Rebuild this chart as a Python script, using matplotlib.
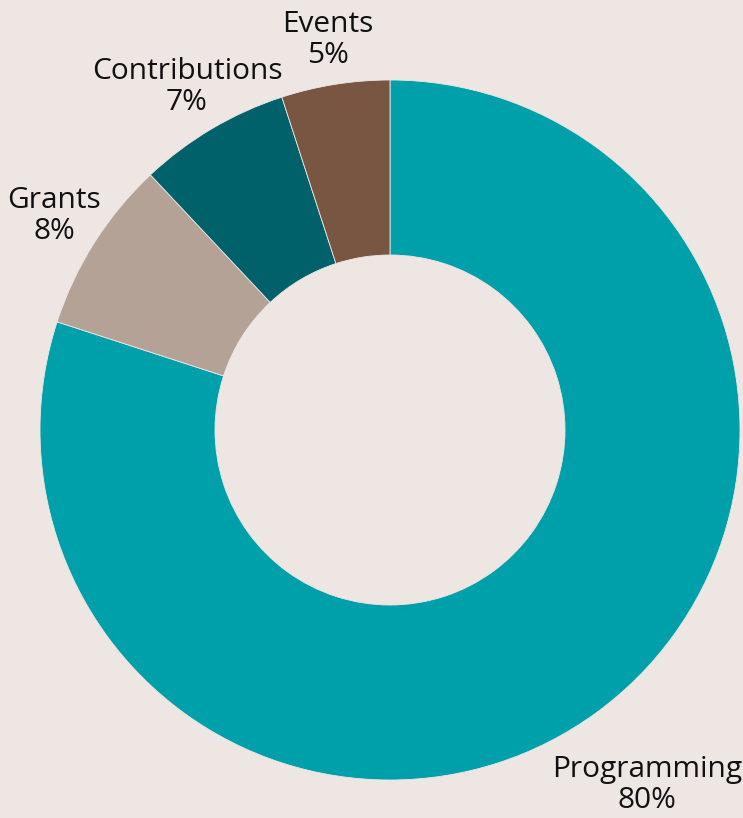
import matplotlib
matplotlib.use("Agg")
import matplotlib.pyplot as plt

labels = ['Programming', 'Grants', 'Contributions', 'Events']
shares = [80, 8, 7, 5]
colors = ['#00A0AA', '#B4A297', '#00616A', '#785641']
bg = '#EDE6E3'

fig = plt.figure(figsize=(7.43, 8.18), dpi=100)
fig.patch.set_facecolor(bg)
ax = fig.add_axes([0, 0, 1, 1])
ax.set_facecolor(bg)

wedges, _ = ax.pie(shares, colors=colors, startangle=90, counterclock=False,
                   radius=1.0, wedgeprops=dict(width=0.5, edgecolor=bg, linewidth=0.6))

# label positions (data units, outer radius = 1)
label_pos = [(0.734, -1.014), (-0.96, 0.611), (-0.58, 0.98), (-0.177, 1.114)]
for name, val, (x, y) in zip(labels, shares, label_pos):
    ax.text(x, y, f'{name}\n{val}%', ha='center', va='center', fontsize=21.5,
            family='Open Sans', color='#111111', linespacing=1.08)

ax.set_xlim(-390 / 350, 353 / 350)
ax.set_ylim(-388 / 350, 430 / 350)
ax.set_aspect('auto')
ax.axis('off')

fig.savefig('out.png', dpi=100, facecolor=bg)
